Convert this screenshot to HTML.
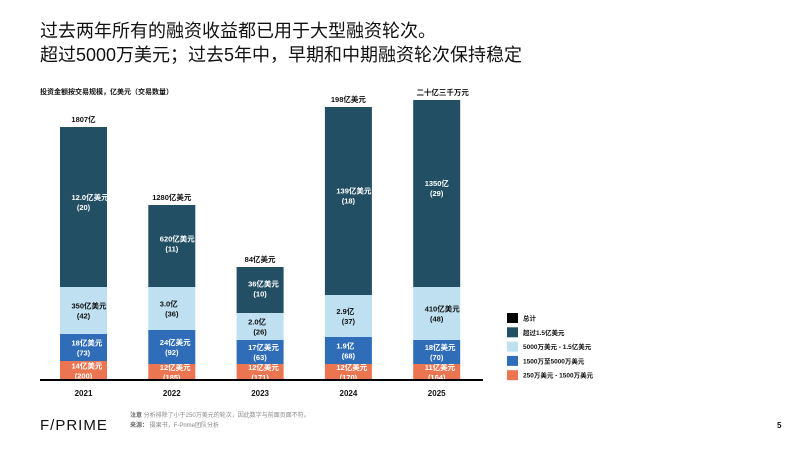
<!DOCTYPE html>
<html><head><meta charset="utf-8">
<style>
body{margin:0;width:800px;height:450px;background:#fff;overflow:hidden;font-family:"Liberation Sans","Noto Sans CJK SC",sans-serif;}
svg{position:absolute;left:0;top:0}
</style></head><body>
<svg width="800" height="450" xmlns="http://www.w3.org/2000/svg" font-family="Liberation Sans, Noto Sans CJK SC, sans-serif">
<text x="40" y="37" font-size="18" fill="#111">过去两年所有的融资收益都已用于大型融资轮次。</text>
<text x="40" y="61" font-size="18" fill="#111">超过5000万美元；过去5年中，早期和中期融资轮次保持稳定</text>
<text x="40" y="94" font-size="7" font-weight="bold" fill="#111">投资金额按交易规模，亿美元（交易数量）</text>
<g id="bars"></g>
<line x1="40" y1="380" x2="483" y2="380" stroke="#000" stroke-width="2"/>
<g id="legend"></g>
<text x="40" y="430" font-size="15" fill="#111" letter-spacing="1">F/PRIME</text>
<text x="130" y="417" font-size="6" fill="#888"><tspan font-weight="bold" fill="#666">注意</tspan>  分析排除了小于250万美元的轮次，因此数字与前面页面不符。</text>
<text x="130" y="427" font-size="6" fill="#888"><tspan font-weight="bold" fill="#666">来源：</tspan>  摄果书，F-Prime团队分析</text>
<text x="777" y="428" font-size="8" font-weight="bold" fill="#111">5</text>
</svg>
<script>
const years=["2021","2022","2023","2024","2025"];
const orangeVals=[19,16,16,16,16];
const blueVals=[27,34,24,27,24];
const lightVals=[47,43,27,42,53];
const darkVals=[160,82,46,188,187];
const totalLabels=["1807亿","1280亿美元","84亿美元","198亿美元","二十亿三千万元"];
const orangeLabels=["14亿美元","12亿美元","12亿美元","12亿美元","11亿美元"];
const orangeCounts=["(200)","(185)","(171)","(170)","(164)"];
const blueLabels=["18亿美元","24亿美元","17亿美元","1.9亿","18亿美元"];
const blueCounts=["(73)","(92)","(63)","(68)","(70)"];
const lightLabels=["350亿美元","3.0亿","2.0亿","2.9亿","410亿美元"];
const lightCounts=["(42)","(36)","(26)","(37)","(48)"];
const darkLabels=["12.0亿美元","620亿美元","36亿美元","139亿美元","1350亿"];
const darkCounts=["(20)","(11)","(10)","(18)","(29)"];
const legendLabels=["总计","超过1.5亿美元","5000万美元 - 1.5亿美元","1500万至5000万美元","250万美元 - 1500万美元"];
const NS="http://www.w3.org/2000/svg";
const base=380, pxPerUnit=1;
function y(v){return base-v*pxPerUnit;}
function xCenter(i){return 83.5+i*88.3;}
const barW=47;
const g=document.getElementById('bars');
function mk(tag,attrs){const e=document.createElementNS(NS,tag);for(const k in attrs)e.setAttribute(k,attrs[k]);return e;}
const series=[
 {vals:orangeVals,labels:orangeLabels,counts:orangeCounts,color:"#EC7551",tc:"#fff",name:"orange"},
 {vals:blueVals,labels:blueLabels,counts:blueCounts,color:"#2F6DB8",tc:"#fff",name:"blue"},
 {vals:lightVals,labels:lightLabels,counts:lightCounts,color:"#BFE0F0",tc:"#111",name:"light"},
 {vals:darkVals,labels:darkLabels,counts:darkCounts,color:"#234F64",tc:"#fff",name:"dark"}];
years.forEach((yr,i)=>{
 let cum=0;const cx=xCenter(i);
 series.forEach(s=>{
  const v=s.vals[i];const top=y(cum+v),bot=y(cum);
  const r=mk('rect',{x:cx-barW/2,y:top,width:barW,height:bot-top,fill:s.color});
  
  
  g.appendChild(r);
  let mid=(top+bot)/2;
  if(s.name==="dark") mid=top+(bot-top)*0.47;
  const t1=mk('text',{x:cx-12,y:mid-2,'font-size':7.5,'font-weight':'bold',fill:s.tc});
  t1.textContent=s.labels[i];
  
  
  g.appendChild(t1);
  const t2=mk('text',{x:cx,y:mid+8,'font-size':7.5,'font-weight':'bold',fill:s.tc,'text-anchor':'middle'});
  t2.textContent=s.counts[i];
  
  
  g.appendChild(t2);
  cum+=v;
 });
 const tt=mk('text',{x:cx+(i===4?6:i===2?0:0),y:y(cum)-5,'font-size':7.5,'font-weight':'bold',fill:'#111','text-anchor':'middle'});
 tt.textContent=totalLabels[i];
 
 
 g.appendChild(tt);
 const yl=mk('text',{x:cx,y:396,'font-size':8,'font-weight':'bold',fill:'#111','text-anchor':'middle'});
 yl.textContent=yr;
 
 
 g.appendChild(yl);
});
const lg=document.getElementById('legend');
const lcolors=["#000","#234F64","#BFE0F0","#2F6DB8","#EC7551"];
legendLabels.forEach((l,i)=>{
 const yy=313+i*14.3;
 const r=mk('rect',{x:507,y:yy,width:11,height:10,fill:lcolors[i]});
 
 
 lg.appendChild(r);
 const t=mk('text',{x:523,y:yy+7.5,'font-size':6.5,'font-weight':'bold',fill:'#111'});
 t.textContent=l;
 
 
 lg.appendChild(t);
});
</script>
</body></html>
